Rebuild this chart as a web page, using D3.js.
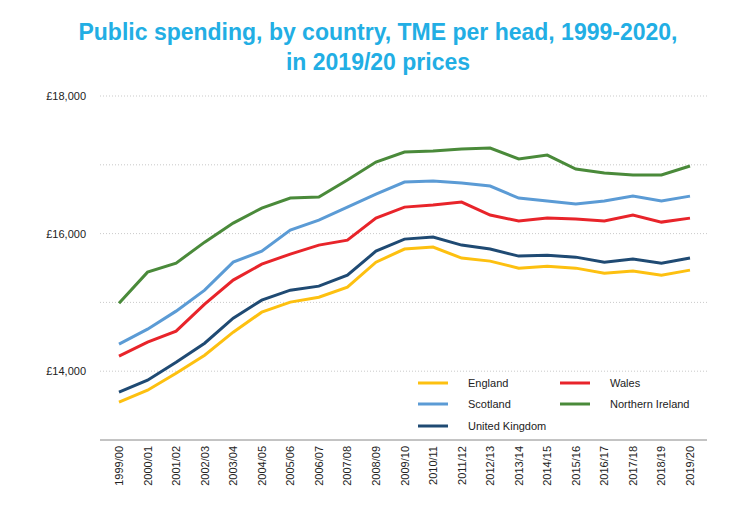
<!DOCTYPE html>
<html><head><meta charset="utf-8">
<script src="https://cdn.jsdelivr.net/npm/d3@7"></script>
<style>body{margin:0;background:#fff;font-family:"Liberation Sans",Arial,sans-serif}</style>
</head><body><svg id="c" width="747" height="518"></svg>
<script>
const years = ["1999/00","2000/01","2001/02","2002/03","2003/04","2004/05","2005/06","2006/07","2007/08","2008/09","2009/10","2010/11","2011/12","2012/13","2013/14","2014/15","2015/16","2016/17","2017/18","2018/19","2019/20"];
const england = [13549,13724,13971,14233,14567,14858,15004,15076,15222,15585,15775,15804,15644,15600,15498,15527,15498,15425,15455,15396,15469];
const uk = [13695,13869,14131,14407,14771,15033,15178,15236,15396,15745,15920,15949,15833,15775,15673,15687,15658,15585,15629,15571,15644];
const wales = [14218,14422,14582,14975,15324,15556,15702,15833,15905,16225,16385,16415,16458,16269,16182,16225,16211,16182,16269,16167,16225];
const scotland = [14393,14611,14873,15178,15585,15745,16051,16196,16385,16575,16749,16764,16735,16691,16516,16473,16429,16473,16545,16473,16545];
const ni = [14989,15440,15571,15876,16153,16371,16516,16531,16778,17040,17185,17200,17229,17244,17084,17142,16938,16880,16851,16851,16982];
const yTicks = [14000,16000,18000];

const series = [
  {name:"England", values:england, color:"#fdc010"},
  {name:"Wales", values:wales, color:"#e8242a"},
  {name:"Scotland", values:scotland, color:"#5b9bd5"},
  {name:"Northern Ireland", values:ni, color:"#4a8a3a"},
  {name:"United Kingdom", values:uk, color:"#1f4a73"}
];

const svg = d3.select('#c');
const x = d3.scalePoint().domain(years).range([119, 690]);
const y = d3.scaleLinear().domain([13000, 18000]).range([440, 96]);

svg.append('text').attr('x', 378).attr('y', 40).attr('text-anchor','middle')
  .attr('fill','#22aee4').attr('font-size',23).attr('font-weight','bold')
  .text('Public spending, by country, TME per head, 1999-2020,');
svg.append('text').attr('x', 378).attr('y', 70).attr('text-anchor','middle')
  .attr('fill','#22aee4').attr('font-size',23).attr('font-weight','bold')
  .text('in 2019/20 prices');

// dotted gridlines
for (let v = 14000; v <= 18000; v += 1000) {
  svg.append('line').attr('x1',100).attr('x2',707).attr('y1',y(v)).attr('y2',y(v))
    .attr('stroke','#bbb').attr('stroke-dasharray','1,2').attr('stroke-width',0.8);
}
svg.append('line').attr('x1',100).attr('x2',707).attr('y1',440).attr('y2',440)
  .attr('stroke','#888').attr('stroke-width',1);

for (let v of yTicks) {
  svg.append('text').attr('x',86).attr('y',y(v)+4).attr('text-anchor','end')
    .attr('font-size',11).attr('fill','#222').text('£'+d3.format(',')(v));
}

svg.selectAll('.xl').data(years).enter().append('text')
  .attr('transform', d => 'translate(' + (x(d)+4) + ',446) rotate(-90)')
  .attr('text-anchor','end').attr('font-size',11).attr('fill','#222').text(d => d);

const line = d3.line().x((d,i) => x(years[i])).y(d => y(d));
for (let s of series) {
  svg.append('path').attr('d', line(s.values)).attr('fill','none')
    .attr('stroke', s.color).attr('stroke-width',3);
}

const legend = [
  {s:series[0], x:418, y:383}, {s:series[1], x:560, y:383},
  {s:series[2], x:418, y:404}, {s:series[3], x:560, y:404},
  {s:series[4], x:418, y:426}
];
for (let l of legend) {
  svg.append('line').attr('x1',l.x).attr('x2',l.x+30).attr('y1',l.y).attr('y2',l.y)
    .attr('stroke',l.s.color).attr('stroke-width',3);
  svg.append('text').attr('x',l.x+50).attr('y',l.y+4).attr('font-size',11)
    .attr('fill','#222').text(l.s.name);
}
</script></body></html>
